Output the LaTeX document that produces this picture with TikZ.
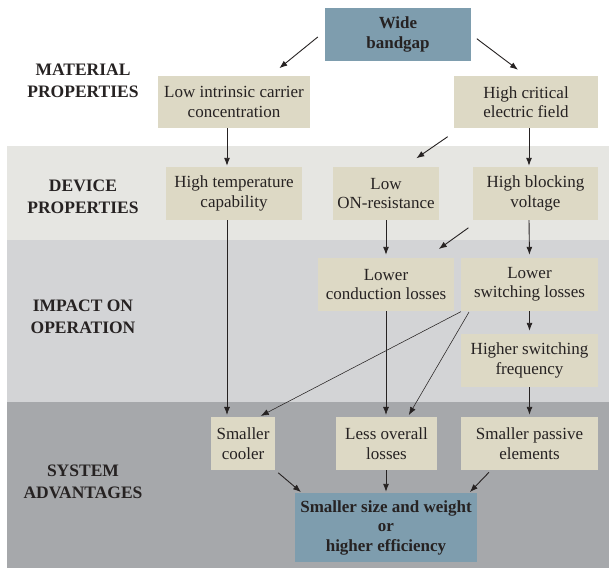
\documentclass[tikz,border=0pt]{standalone}
\usepackage{fontspec}
\setmainfont{Liberation Serif}
\usetikzlibrary{arrows.meta}
\definecolor{beige}{RGB}{221,217,197}
\definecolor{bluebox}{RGB}{126,157,174}
\definecolor{banddev}{RGB}{230,230,226}
\definecolor{bandimp}{RGB}{211,212,214}
\definecolor{bandsys}{RGB}{166,168,171}
\definecolor{ink}{RGB}{38,34,34}
\begin{document}
\begin{tikzpicture}[x=1pt,y=-1pt,
  box/.style={fill=beige, inner sep=0pt, align=center, minimum height=53pt,
    text=ink, font=\fontsize{17}{19.5}\selectfont},
  bbox/.style={fill=bluebox, inner sep=0pt, align=center,
    text=ink, font=\fontsize{17}{19.5}\selectfont\bfseries},
  head/.style={align=center, text=ink, font=\fontsize{17.5}{22}\selectfont\bfseries},
  arr/.style={draw=ink, line width=0.9pt, -{Latex[length=8pt,width=6pt]}},
  thin/.style={draw=ink, line width=0.55pt, -{Latex[length=8pt,width=6pt]}}
]
\useasboundingbox (0,0) rectangle (609,570);
\fill[white] (0,0) rectangle (609,570);
% bands
\fill[banddev] (7,146) rectangle (609,240);
\fill[bandimp] (7,240) rectangle (609,402);
\fill[bandsys] (7,402) rectangle (609,568);

% headings
\node[head] (hmat) at (83,81) {MATERIAL\\PROPERTIES};
\node[head] (hdev) at (83,197) {DEVICE\\PROPERTIES};
\node[head] (himp) at (83,317) {IMPACT ON\\OPERATION};
\node[head] (hsys) at (83,482) {SYSTEM\\ADVANTAGES};

% nodes
\node[bbox, minimum width=146pt, minimum height=53pt] (wbg) at (398,34.5) {Wide\\bandgap};
\node[box, minimum width=152pt, minimum height=52pt] (lic) at (234,102) {Low intrinsic carrier\\concentration};
\node[box, minimum width=144pt, minimum height=52pt] (hcf) at (526,102) {High critical\\electric field};
\node[box, minimum width=136pt] (htc) at (234,193.5) {High temperature\\capability};
\node[box, minimum width=106pt] (lor) at (386,193.5) {Low\\ON-resistance};
\node[box, minimum width=125pt] (hbv) at (535.5,193.5) {High blocking\\voltage};
\node[box, minimum width=136pt] (lcl) at (386,284.5) {Lower\\conduction losses};
\node[box, minimum width=137pt] (lsl) at (529.5,284.5) {Lower\\switching losses};
\node[box, minimum width=137pt] (hsf) at (529.5,360.5) {Higher switching\\frequency};
\node[box, minimum width=64pt] (sco) at (243,443.5) {Smaller\\cooler};
\node[box, minimum width=101pt] (lol) at (386.5,443.5) {Less overall\\losses};
\node[box, minimum width=137pt] (spe) at (529.5,443.5) {Smaller passive\\elements};
\node[bbox, minimum width=182pt, minimum height=69pt] (ssw) at (386,527.5) {Smaller size and weight\\or\\higher efficiency};

% connectors
\draw[arr, shorten <=9pt, shorten >=12pt] ([yshift=3.2pt]wbg.west) -- ([xshift=36pt]lic.north);
\draw[arr, shorten <=7pt, shorten >=10pt] (wbg.east) -- (hcf.north);
\draw[arr, shorten >=1pt] ([xshift=-7pt]lic.south) -- ([xshift=-7pt]htc.north);
\draw[arr, shorten >=1pt] ([xshift=3pt]hcf.south) -- ([xshift=-6.5pt]hbv.north);
\draw[arr, shorten <=15pt, shorten >=15pt] ([xshift=-66pt]hcf.south) -- ([xshift=18pt]lor.north);
\draw[arr, shorten >=3pt] (lor.south) -- (lcl.north);
\draw[arr, shorten >=3pt] ([xshift=-6.5pt]hbv.south) -- (lsl.north);
\draw[arr, shorten <=13pt, shorten >=15pt] ([xshift=-56.5pt]hbv.south) -- ([xshift=40.6pt]lcl.north);
\draw[arr, shorten >=3pt] (lsl.south) -- (hsf.north);
\draw[thin, shorten >=2pt] ([xshift=-7pt]htc.south) -- ([xshift=-16pt]sco.north);
\draw[thin, shorten <=1pt, shorten >=2pt] ([xshift=1pt]lsl.south west) -- ([xshift=16pt]sco.north);
\draw[thin, shorten >=2pt] (lcl.south) -- ([xshift=-0.5pt]lol.north);
\draw[thin, shorten <=1pt, shorten >=2pt] ([xshift=-60pt]lsl.south) -- ([xshift=21.3pt]lol.north);
\draw[arr, shorten >=2pt] (hsf.south) -- (spe.north);
\draw[arr, shorten <=4pt, shorten >=1pt] (sco.south east) -- ([xshift=7pt]ssw.north west);
\draw[arr, shorten >=1pt] ([xshift=-0.5pt]lol.south) -- (ssw.north);
\draw[arr, shorten <=3pt, shorten >=1pt] ([xshift=-38.5pt]spe.south) -- ([xshift=-8pt]ssw.north east);
\end{tikzpicture}
\end{document}
